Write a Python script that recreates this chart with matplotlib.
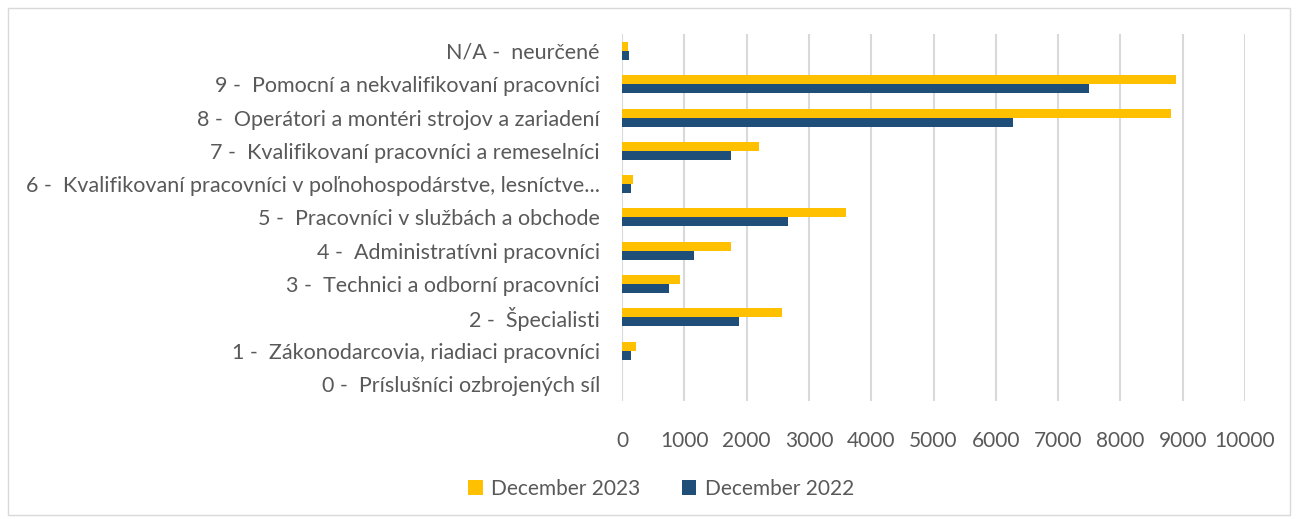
import matplotlib.pyplot as plt
import numpy as np
from matplotlib.patches import Rectangle

plt.rcParams['font.family'] = ['Lato', 'DejaVu Sans']

categories = [
    "0 -  Príslušníci ozbrojených síl",
    "1 -  Zákonodarcovia, riadiaci pracovníci",
    "2 -  Špecialisti",
    "3 -  Technici a odborní pracovníci",
    "4 -  Administratívni pracovníci",
    "5 -  Pracovníci v službách a obchode",
    "6 -  Kvalifikovaní pracovníci v poľnohospodárstve, lesníctve...",
    "7 -  Kvalifikovaní pracovníci a remeselníci",
    "8 -  Operátori a montéri strojov a zariadení",
    "9 -  Pomocní a nekvalifikovaní pracovníci",
    "N/A -  neurčené",
]
dec_2023 = [0, 220, 2560, 935, 1750, 3600, 180, 2200, 8820, 8900, 100]
dec_2022 = [0, 140, 1880, 755, 1155, 2660, 140, 1750, 6280, 7500, 110]
xticks = [0, 1000, 2000, 3000, 4000, 5000, 6000, 7000, 8000, 9000, 10000]

yellow = "#FFC000"
blue = "#1F4E79"
txt = "#595959"

fig = plt.figure(figsize=(12.96, 5.19), dpi=100)
ax = fig.add_axes([0.48, 0.228, 0.4806, 0.706])

y = np.arange(len(categories))
h = 0.27
ax.barh(y + h / 2, dec_2023, height=h, color=yellow, label="December 2023", zorder=3)
ax.barh(y - h / 2, dec_2022, height=h, color=blue, label="December 2022", zorder=3)

ax.set_ylim(-0.5, len(categories) - 0.5)
ax.set_xlim(0, 10000)
ax.set_xticks(xticks)
ax.set_xticklabels([str(t) for t in xticks])
ax.set_yticks(y)
ax.set_yticklabels(categories, fontsize=15.5)
ax.tick_params(axis="both", length=0, colors=txt)
ax.tick_params(axis="x", pad=22, labelsize=15)
ax.tick_params(axis="y", pad=16)
ax.xaxis.grid(True, color="#D9D9D9", linewidth=1.5, zorder=0)
for s in ax.spines.values():
    s.set_visible(False)

leg = fig.legend(loc="center", bbox_to_anchor=(0.51, 0.058), ncol=2, frameon=False,
                 fontsize=15, handlelength=0.7, handleheight=0.7, columnspacing=2.0,
                 handletextpad=0.4)
for t in leg.get_texts():
    t.set_color(txt)

fig.patches.append(Rectangle((8 / 1296, 4 / 519), 1282 / 1296, 507 / 519, transform=fig.transFigure,
                             fill=False, edgecolor="#D9D9D9", linewidth=1))

fig.savefig("out.png", dpi=100)
